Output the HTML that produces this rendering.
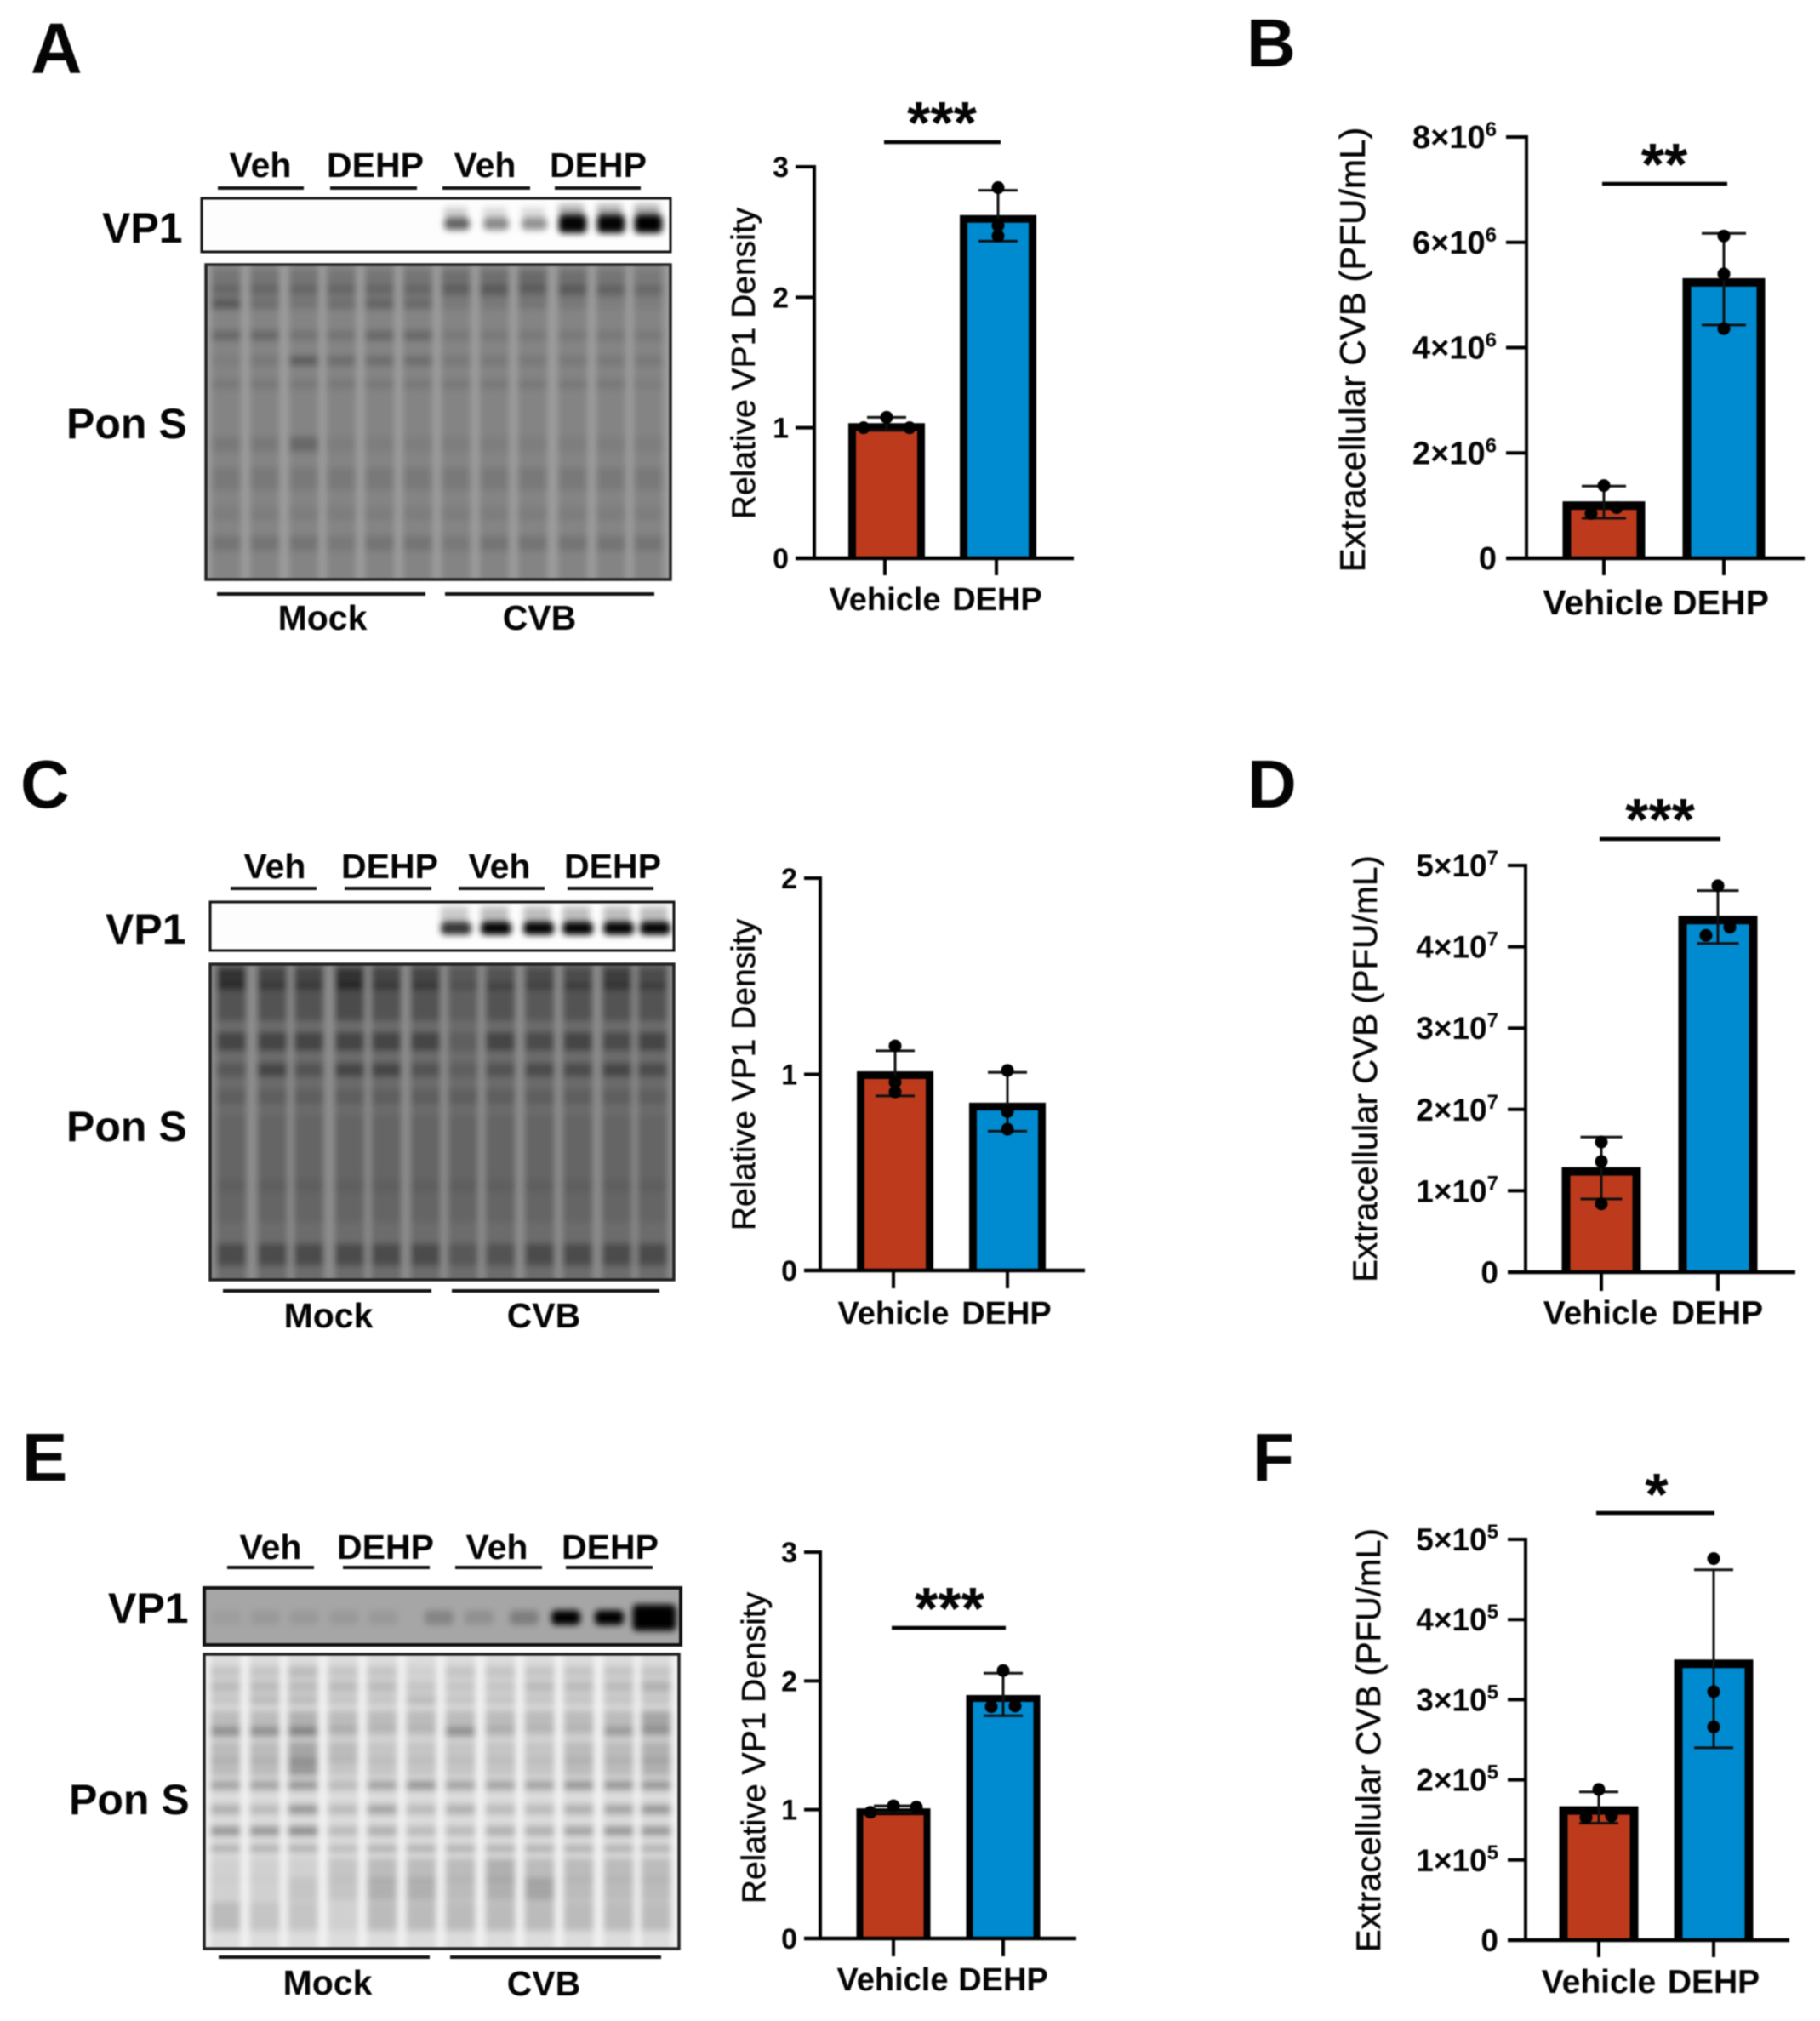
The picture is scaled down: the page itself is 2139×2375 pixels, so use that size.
<!DOCTYPE html>
<html lang="en">
<head>
<meta charset="utf-8">
<title>VP1 density and extracellular CVB panels</title>
<style>
html,body{margin:0;padding:0;background:#fff;}
body{width:2139px;height:2375px;overflow:hidden;}
svg{position:absolute;left:0;top:0;filter:blur(.7px);}
text{font-family:"Liberation Sans",Arial,sans-serif;fill:#050505;}
.letter{font-size:80px;font-weight:700;}
.lab{font-size:41px;font-weight:700;}
.big{font-size:50px;font-weight:700;}
.rule{stroke:#111;stroke-width:4;}
</style>
</head>
<body>
<svg id="figure" xmlns="http://www.w3.org/2000/svg" width="2139" height="2375" viewBox="0 0 2139 2375">
<defs>
<filter id="blur-bands" x="-5%" y="-5%" width="110%" height="110%"><feGaussianBlur stdDeviation="3.6"/></filter>
<filter id="blur-vp1" x="-5%" y="-40%" width="110%" height="180%"><feGaussianBlur stdDeviation="3.6"/></filter>
</defs>
<rect x="0" y="0" width="2139" height="2375" fill="#fff"/>

<text class="letter" style="font-size:84px" x="36" y="86">A</text>
<text class="letter" x="1465" y="78">B</text>
<text class="letter" x="24" y="949">C</text>
<text class="letter" x="1466" y="949">D</text>
<text class="letter" x="26" y="1740">E</text>
<text class="letter" x="1472" y="1740">F</text>

<g id="blot-a">
<text class="lab" x="306" y="208" text-anchor="middle">Veh</text>
<text class="lab" x="441" y="208" text-anchor="middle">DEHP</text>
<text class="lab" x="570" y="208" text-anchor="middle">Veh</text>
<text class="lab" x="703" y="208" text-anchor="middle">DEHP</text>
<line class="rule" x1="256" x2="357" y1="221" y2="221"/>
<line class="rule" x1="388" x2="490" y1="221" y2="221"/>
<line class="rule" x1="520" x2="623" y1="221" y2="221"/>
<line class="rule" x1="652" x2="753" y1="221" y2="221"/>
<text class="big" x="120" y="285">VP1</text>
<text class="big" x="78" y="515">Pon S</text>
<line class="rule" x1="255" x2="500" y1="698" y2="698"/>
<line class="rule" x1="523" x2="769" y1="698" y2="698"/>
<text class="lab" x="379" y="740" text-anchor="middle">Mock</text>
<text class="lab" x="634" y="740" text-anchor="middle">CVB</text>
</g>

<g id="blot-c">
<text class="lab" x="323" y="1032" text-anchor="middle">Veh</text>
<text class="lab" x="458" y="1032" text-anchor="middle">DEHP</text>
<text class="lab" x="587" y="1032" text-anchor="middle">Veh</text>
<text class="lab" x="720" y="1032" text-anchor="middle">DEHP</text>
<line class="rule" x1="271" x2="372" y1="1044" y2="1044"/>
<line class="rule" x1="405" x2="507" y1="1044" y2="1044"/>
<line class="rule" x1="539" x2="640" y1="1044" y2="1044"/>
<line class="rule" x1="667" x2="768" y1="1044" y2="1044"/>
<text class="big" x="124" y="1109">VP1</text>
<text class="big" x="78" y="1341">Pon S</text>
<line class="rule" x1="262" x2="507" y1="1517" y2="1517"/>
<line class="rule" x1="531" x2="775" y1="1517" y2="1517"/>
<text class="lab" x="386" y="1560" text-anchor="middle">Mock</text>
<text class="lab" x="639" y="1560" text-anchor="middle">CVB</text>
</g>

<g id="blot-e">
<text class="lab" x="318" y="1832" text-anchor="middle">Veh</text>
<text class="lab" x="453" y="1832" text-anchor="middle">DEHP</text>
<text class="lab" x="584" y="1832" text-anchor="middle">Veh</text>
<text class="lab" x="717" y="1832" text-anchor="middle">DEHP</text>
<line class="rule" x1="267" x2="369" y1="1842" y2="1842"/>
<line class="rule" x1="403" x2="505" y1="1842" y2="1842"/>
<line class="rule" x1="535" x2="637" y1="1842" y2="1842"/>
<line class="rule" x1="665" x2="767" y1="1842" y2="1842"/>
<text class="big" x="127" y="1907">VP1</text>
<text class="big" x="81" y="2132">Pon S</text>
<line class="rule" x1="257" x2="505" y1="2300" y2="2300"/>
<line class="rule" x1="529" x2="777" y1="2300" y2="2300"/>
<text class="lab" x="385" y="2344" text-anchor="middle">Mock</text>
<text class="lab" x="639" y="2345" text-anchor="middle">CVB</text>
</g>

<g id="charts"></g>
</svg>

<script>
// ---- chart data ----
const categories = ['Vehicle', 'DEHP'];

const panelATicks = [0, 1, 2, 3];
const panelAMeans = [1.035, 2.63];
const panelAErrLow = [0.98, 2.43];
const panelAErrHigh = [1.08, 2.82];
const panelAVehiclePoints = [1.08, 1.0, 1.0];
const panelADehpPoints = [2.84, 2.55, 2.47];

const panelBTicks = [0, 2e6, 4e6, 6e6, 8e6];
const panelBMeans = [1.08e6, 5.32e6];
const panelBErrLow = [0.76e6, 4.43e6];
const panelBErrHigh = [1.37e6, 6.17e6];
const panelBVehiclePoints = [1.38e6, 0.85e6, 0.96e6];
const panelBDehpPoints = [6.12e6, 5.4e6, 4.36e6];

const panelCTicks = [0, 1, 2];
const panelCMeans = [1.015, 0.855];
const panelCErrLow = [0.89, 0.71];
const panelCErrHigh = [1.12, 1.01];
const panelCVehiclePoints = [1.145, 0.96, 0.91];
const panelCDehpPoints = [1.02, 0.81, 0.72];

const panelDTicks = [0, 1e7, 2e7, 3e7, 4e7, 5e7];
const panelDMeans = [1.29e7, 4.38e7];
const panelDErrLow = [0.9e7, 4.04e7];
const panelDErrHigh = [1.66e7, 4.69e7];
const panelDVehiclePoints = [1.6e7, 1.36e7, 0.84e7];
const panelDDehpPoints = [4.75e7, 4.14e7, 4.24e7];

const panelETicks = [0, 1, 2, 3];
const panelEMeans = [1.01, 1.89];
const panelEErrLow = [0.98, 1.73];
const panelEErrHigh = [1.03, 2.06];
const panelEVehiclePoints = [1.03, 0.98, 1.02];
const panelEDehpPoints = [2.08, 1.8, 1.805];

const panelFTicks = [0, 1e5, 2e5, 3e5, 4e5, 5e5];
const panelFMeans = [1.67e5, 3.5e5];
const panelFErrLow = [1.46e5, 2.4e5];
const panelFErrHigh = [1.85e5, 4.62e5];
const panelFVehiclePoints = [1.88e5, 1.53e5, 1.55e5];
const panelFDehpPoints = [4.76e5, 3.1e5, 2.66e5];

// ---- blot band strengths: vertical fraction, one digit per lane, band thickness ----
const ponABands = [[.05,'333333445432',24],[.085,'444444565654',14],[.125,'843465223211',12],[.225,'553355222222',12],[.305,'127444222222',12],[.38,'222222222221',12],[.57,'225111111111',18],[.68,'222222222222',26],[.79,'111111111111',16],[.885,'333233233333',18]];
const ponCBands = [[.045,'966966345575',26],[.12,'444544243444',44],[.245,'666666265656',22],[.335,'364664245565',16],[.42,'222222222222',18],[.6,'111111111111',90],[.75,'111111111111',50],[.92,'555555345555',26]];
const ponEBands = [[.06,'223221222222',14],[.11,'333332223334',14],[.155,'233223222222',12],[.225,'334333333335',24],[.265,'667322632255',12],[.33,'335322222334',24],[.385,'336222222334',20],[.445,'556356555666',12],[.527,'436353433456',12],[.6,'667343344566',12],[.66,'444344444444',9],[.73,'111233343333',26],[.8,'112244345333',26],[.89,'322133333333',34]];
const vp1ADensity = [.6, .45, .42, .98, .98, 1];
const vp1CDensity = [.8, 1, 1, 1, 1, 1];
const vp1EDensity = [.05, .08, .08, .08, .08, .2, .13, .24, 1, 1, 1];

// ---- helpers ----
const NS = 'http://www.w3.org/2000/svg';
const chartsRoot = document.getElementById('charts');
function make(tag, attrs, parent) {
  const e = document.createElementNS(NS, tag);
  for (const k in attrs) e.setAttribute(k, attrs[k]);
  parent.appendChild(e);
  return e;
}

function drawChart(c, ticks, means, errLow, errHigh, vehiclePoints, dehpPoints) {
  const series = [vehiclePoints, dehpPoints];
  const colors = ['#be3a1c', '#008ad0'];
  const Y = v => c.y0 - (v / c.yMax) * (c.y0 - c.yTop);
  const g = make('g', {}, chartsRoot);
  
  

  means.forEach((m, i) => {
    const l = c.cx[i] - c.barW / 2 + c.sw / 2;
    const r = c.cx[i] + c.barW / 2 - c.sw / 2;
    const t = Y(m) + c.sw / 2;
    const bar = make('path', {d: 'M' + l + ' ' + c.y0 + 'L' + l + ' ' + t + 'L' + r + ' ' + t + 'L' + r + ' ' + c.y0, fill: colors[i], stroke: '#000', 'stroke-width': c.sw}, g);
    
    
  });

  const yAxis = make('line', {x1: c.ax, x2: c.ax, y1: Y(ticks[ticks.length - 1]) - 2, y2: c.y0 + 2, stroke: '#000', 'stroke-width': 4}, g);
  
  
  const xAxis = make('line', {x1: c.left, x2: c.right, y1: c.y0, y2: c.y0, stroke: '#000', 'stroke-width': 4.5}, g);
  
  

  ticks.forEach(t => {
    const mark = make('line', {x1: c.left, x2: c.ax, y1: Y(t), y2: Y(t), stroke: '#000', 'stroke-width': 4}, g);
    
    
    const label = make('text', {x: c.left - c.labelGap, y: Y(t) + c.tickDy, 'text-anchor': 'end', 'font-size': c.tickSize, 'font-weight': 700}, g);
    
    
    if (c.exp && t !== 0) {
      label.textContent = (t / Math.pow(10, c.exp)) + '×10';
      const sup = make('tspan', {dy: -14, 'font-size': 24}, label);
      sup.textContent = c.exp;
    } else {
      label.textContent = t;
    }
  });

  categories.forEach((name, i) => {
    const mark = make('line', {x1: c.tx[i], x2: c.tx[i], y1: c.y0, y2: c.tickEnd, stroke: '#000', 'stroke-width': 4}, g);
    
    
    const label = make('text', {x: c.lx[i], y: c.labelY, 'text-anchor': 'middle', 'font-size': c.xSize, 'font-weight': 700}, g);
    label.textContent = name;
    
    
  });

  means.forEach((m, i) => {
    const cx = c.cx[i];
    const stem = make('line', {x1: cx, x2: cx, y1: Y(errHigh[i]), y2: Y(errLow[i]), stroke: '#111', 'stroke-width': 3}, g);
    
    
    [errHigh[i], errLow[i]].forEach(v => {
      const cap = make('line', {x1: cx - c.cap / 2, x2: cx + c.cap / 2, y1: Y(v), y2: Y(v), stroke: '#111', 'stroke-width': 3}, g);
      
      
    });
    series[i].forEach((v, j) => {
      const pt = make('circle', {cx: cx + c.offsets[i][j], cy: Y(v), r: 7.5, fill: '#000'}, g);
      
      
    });
  });

  const title = make('text', {x: 0, y: 0, transform: 'translate(' + c.titleX + ',' + c.titleY + ') rotate(-90)', 'text-anchor': 'middle', 'font-size': c.titleSize, stroke: '#050505', 'stroke-width': .5}, g);
  title.textContent = c.title;
  
  

  if (c.stars) {
    const rule = make('line', {x1: c.sigX[0], x2: c.sigX[1], y1: c.sigY, y2: c.sigY, stroke: '#000', 'stroke-width': 4.5}, g);
    
    
    const stars = make('text', {x: c.starX, y: c.starY + 39, 'text-anchor': 'middle', 'font-size': 70, 'font-weight': 700}, g);
    stars.textContent = c.stars;
    
    
  }
}

function drawPon(parentId, box, lanes, gapColor, laneColor, laneW, step, bands) {
  const parent = document.getElementById(parentId);
  const clipId = parentId + '-clip';
  const defs = make('clipPath', {id: clipId}, parent);
  make('rect', {x: box.x, y: box.y, width: box.w, height: box.h}, defs);
  const wrap = make('g', {'clip-path': 'url(#' + clipId + ')'}, parent);
  
  
  const inner = make('g', {filter: 'url(#blur-bands)'}, wrap);
  make('rect', {x: box.x - 20, y: box.y - 20, width: box.w + 40, height: box.h + 40, fill: gapColor}, inner);
  lanes.forEach(cx => {
    make('rect', {x: cx - laneW / 2, y: box.y - 20, width: laneW, height: box.h + 40, fill: laneColor}, inner);
  });
  bands.forEach(b => {
    lanes.forEach((cx, i) => {
      const d = +b[1][i];
      make('rect', {x: cx - laneW / 2, y: box.y + b[0] * box.h - b[2] / 2, width: laneW, height: b[2], fill: '#000', opacity: d * step}, inner);
    });
  });
  const frame = make('rect', {x: box.x, y: box.y, width: box.w, height: box.h, fill: 'none', stroke: '#222', 'stroke-width': 3.5}, parent);
  
  
}

function drawVp1(parentId, box, bg, lanes, density, bandW, bandH, bandY, smear, stroke) {
  const parent = document.getElementById(parentId);
  const clipId = parentId + '-vp1-clip';
  const defs = make('clipPath', {id: clipId}, parent);
  make('rect', {x: box.x, y: box.y, width: box.w, height: box.h}, defs);
  const wrap = make('g', {'clip-path': 'url(#' + clipId + ')'}, parent);
  
  
  make('rect', {x: box.x, y: box.y, width: box.w, height: box.h, fill: bg}, wrap);
  const inner = make('g', {filter: 'url(#blur-vp1)'}, wrap);
  lanes.forEach((cx, i) => {
    const big = i >= lanes.length - smear.last;
    const w = big ? bandW * smear.growW : bandW;
    const h = big ? bandH * smear.growH : bandH;
    make('rect', {x: cx - w / 2, y: bandY - h / 2 - smear.h, width: w * .9, height: smear.h, fill: '#000', opacity: density[i] * smear.op}, inner);
    const band = make('rect', {x: cx - w / 2, y: bandY - h / 2, width: w, height: h, rx: 5, fill: '#000', opacity: density[i]}, inner);
    
    
  });
  const frame = make('rect', {x: box.x, y: box.y, width: box.w, height: box.h, fill: 'none', stroke: '#111', 'stroke-width': stroke}, parent);
  
  
}

// ---- blots ----
drawVp1('blot-a', {x: 237, y: 233, w: 551, h: 63}, '#fdfdfd', [537, 583, 628, 673, 718, 762], vp1ADensity, 30, 15, 263, {h: 12, op: .3, last: 3, growW: 1.1, growH: 1.45}, 3);
drawPon('blot-a', {x: 242, y: 311, w: 546, h: 370}, [266, 311, 357, 401, 446, 491, 536, 581, 626, 673, 718, 762], '#9c9c9c', '#848484', 35, .04, ponABands);

drawVp1('blot-c', {x: 247, y: 1060, w: 545, h: 57}, '#fdfdfd', [536, 583, 633, 679, 727, 770], vp1CDensity, 36, 15, 1091, {h: 18, op: .25, last: 0, growW: 1, growH: 1}, 3);
drawPon('blot-c', {x: 247, y: 1133, w: 545, h: 371}, [272, 320, 363, 411, 454, 500, 544, 588, 634, 679, 725, 767], '#8e8e8e', '#6c6c6c', 36, .06, ponCBands);

drawVp1('blot-e', {x: 240, y: 1866, w: 560, h: 67}, '#a6a6a6', [266, 312, 357, 404, 450, 516, 563, 616, 665, 716, 769], vp1EDensity, 34, 17, 1901, {h: 2, op: .1, last: 1, growW: 1.5, growH: 1.8}, 4);
drawPon('blot-e', {x: 240, y: 1944, w: 558, h: 346}, [265, 311, 356, 403, 449, 495, 541, 588, 634, 680, 727, 771], '#f2f2f2', '#dcdcdc', 36, .05, ponEBands);

// ---- charts ----
const relTitle = 'Relative VP1 Density';
const pfuTitle = 'Extracellular CVB (PFU/mL)';

drawChart({id: 'a', y0: 656, yTop: 196, yMax: 3, ax: 957, left: 935, right: 1262, cx: [1042, 1173], tx: [1040, 1171], lx: [1040, 1172], barW: 90, sw: 9, cap: 46, offsets: [[0, -27, 27], [0, 0, 0]], tickEnd: 676, labelY: 717, labelGap: 8, tickDy: 12, tickSize: 34, xSize: 38, title: relTitle, titleX: 887, titleY: 427, titleSize: 39, sigX: [1039, 1176], sigY: 167, stars: '***', starX: 1107, starY: 129},
  panelATicks, panelAMeans, panelAErrLow, panelAErrHigh, panelAVehiclePoints, panelADehpPoints);

drawChart({id: 'b', y0: 656, yTop: 161, yMax: 8e6, exp: 6, ax: 1794, left: 1770, right: 2121, cx: [1885, 2026], tx: [1885, 2026], lx: [1884, 2022], barW: 97, sw: 10, cap: 52, offsets: [[0, -15, 15], [0, 0, 0]], tickEnd: 676, labelY: 722, labelGap: 11, tickDy: 13, tickSize: 38, xSize: 41, title: pfuTitle, titleX: 1604, titleY: 411, titleSize: 42, sigX: [1883, 2030], sigY: 216, stars: '**', starX: 1956, starY: 178},
  panelBTicks, panelBMeans, panelBErrLow, panelBErrHigh, panelBVehiclePoints, panelBDehpPoints);

drawChart({id: 'c', y0: 1493, yTop: 1032, yMax: 2, ax: 964, left: 945, right: 1275, cx: [1052, 1184], tx: [1050, 1184], lx: [1050, 1183], barW: 90, sw: 9, cap: 46, offsets: [[0, 0, 0], [0, 0, 0]], tickEnd: 1514, labelY: 1556, labelGap: 8, tickDy: 12, tickSize: 34, xSize: 38, title: relTitle, titleX: 887, titleY: 1263, titleSize: 39},
  panelCTicks, panelCMeans, panelCErrLow, panelCErrHigh, panelCVehiclePoints, panelCDehpPoints);

drawChart({id: 'd', y0: 1495, yTop: 1017, yMax: 5e7, exp: 7, ax: 1793, left: 1772, right: 2110, cx: [1882, 2019], tx: [1882, 2019], lx: [1881, 2018], barW: 93, sw: 10, cap: 49, offsets: [[0, 0, 0], [0, -14, 14]], tickEnd: 1517, labelY: 1556, labelGap: 11, tickDy: 13, tickSize: 37, xSize: 39, title: pfuTitle, titleX: 1618, titleY: 1256, titleSize: 40.3, sigX: [1880, 2022], sigY: 986, stars: '***', starX: 1951, starY: 948},
  panelDTicks, panelDMeans, panelDErrLow, panelDErrHigh, panelDVehiclePoints, panelDDehpPoints);

drawChart({id: 'e', y0: 2278, yTop: 1824, yMax: 3, ax: 964, left: 945, right: 1265, cx: [1050, 1179], tx: [1050, 1179], lx: [1049, 1179], barW: 87, sw: 8, cap: 46, offsets: [[0, -27, 27], [0, -14, 14]], tickEnd: 2299, labelY: 2339, labelGap: 8, tickDy: 12, tickSize: 34, xSize: 38, title: relTitle, titleX: 899, titleY: 2054, titleSize: 39, sigX: [1048, 1182], sigY: 1913, stars: '***', starX: 1116, starY: 1875},
  panelETicks, panelEMeans, panelEErrLow, panelEErrHigh, panelEVehiclePoints, panelEDehpPoints);

drawChart({id: 'f', y0: 2280, yTop: 1809, yMax: 5e5, exp: 5, ax: 1793, left: 1772, right: 2103, cx: [1879, 2014], tx: [1879, 2014], lx: [1879, 2014], barW: 93, sw: 10, cap: 46, offsets: [[0, -15, 15], [0, 0, 0]], tickEnd: 2300, labelY: 2342, labelGap: 11, tickDy: 13, tickSize: 37, xSize: 39, title: pfuTitle, titleX: 1622, titleY: 2045, titleSize: 40, sigX: [1876, 2015], sigY: 1778, stars: '*', starX: 1947, starY: 1741},
  panelFTicks, panelFMeans, panelFErrLow, panelFErrHigh, panelFVehiclePoints, panelFDehpPoints);
</script>
</body>
</html>
